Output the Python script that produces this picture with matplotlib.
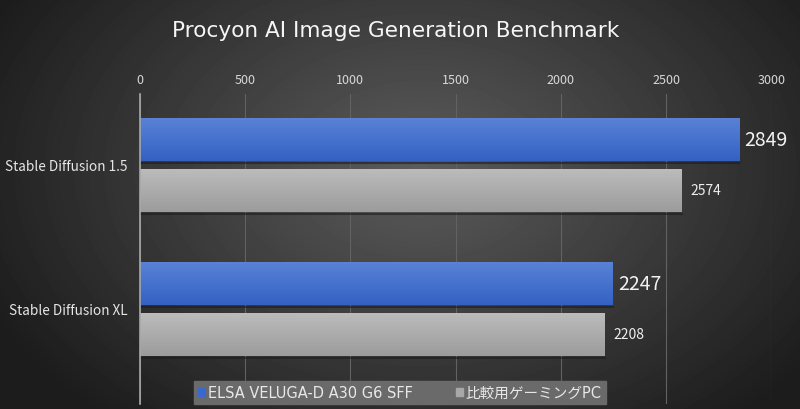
import numpy as np
import matplotlib
matplotlib.use('Agg')
import matplotlib.pyplot as plt
from matplotlib.patches import Patch

plt.rcParams['font.family'] = ['Noto Sans CJK JP', 'DejaVu Sans']
wide = ['DejaVu Sans', 'Noto Sans CJK JP']

categories = ['Stable Diffusion 1.5', 'Stable Diffusion XL']
series_names = ['ELSA VELUGA-D A30 G6 SFF', '比較用ゲーミングPC']
elsa_scores = [2849, 2247]
pc_scores = [2574, 2208]
x_ticks = [0, 500, 1000, 1500, 2000, 2500, 3000]

fig = plt.figure(figsize=(8, 4.1), dpi=100)

# radial gradient background
bg = fig.add_axes([0, 0, 1, 1])
bg.set_axis_off()
yy, xx = np.mgrid[0:410, 0:800]
r = np.sqrt(((xx - 420) / 480.0) ** 2 + ((yy - 170) / 330.0) ** 2)
shade = np.clip(0.36 - 0.25 * r, 0.11, 0.36)
bg.imshow(shade, cmap='gray', vmin=0, vmax=1, aspect='auto',
          extent=[0, 1, 0, 1], origin='upper')
bg.set_xlim(0, 1)
bg.set_ylim(0, 1)

ax = fig.add_axes([0.175, 0.012, 0.789, 0.756])
ax.patch.set_alpha(0)

pos = np.arange(len(categories))
h = 0.30
off = 0.177


def gradient_bars(y, vals, top, bottom):
    bars = ax.barh(y, vals, height=h, color=bottom, zorder=3)
    grad = np.linspace(0, 1, 50).reshape(-1, 1)
    cmap = matplotlib.colors.LinearSegmentedColormap.from_list('g', [top, bottom])
    for b in bars:
        x0, y0 = b.get_x(), b.get_y()
        im = ax.imshow(grad, cmap=cmap, aspect='auto', zorder=4,
                       extent=[x0, x0 + b.get_width(), y0 + b.get_height(), y0])
        im.set_clip_path(b)
        # dark edge under the bar
        ax.plot([x0, x0 + b.get_width()], [y0 + b.get_height() + 0.012] * 2,
                color='#1c1c1c', lw=1.5, alpha=0.6, zorder=2)
    return bars


b1 = gradient_bars(pos - off, elsa_scores, '#5a82d6', '#3462c4')
b2 = gradient_bars(pos + off, pc_scores, '#bcbcbc', '#9c9c9c')

for b, v in zip(b1, elsa_scores):
    ax.text(v + 25, b.get_y() + b.get_height() / 2, str(v), color='#f2f2f2',
            fontsize=14, va='center', ha='left', zorder=5)
for b, v in zip(b2, pc_scores):
    ax.text(v + 40, b.get_y() + b.get_height() / 2, str(v), color='#eeeeee',
            fontsize=10, va='center', ha='left', zorder=5)

ax.set_xlim(0, 3000)
ax.set_ylim(1.66, -0.49)
ax.set_xticks(x_ticks)
ax.xaxis.tick_top()
ax.tick_params(axis='x', length=0, pad=6, labelsize=9, labelcolor='#d8d8d8')
ax.set_yticks(pos)
ax.set_yticklabels(categories)
ax.tick_params(axis='y', length=0, pad=9, labelsize=9.8, labelcolor='#e6e6e6')
ax.grid(axis='x', color='#626262', lw=0.8, zorder=0)
for s in ['top', 'right', 'bottom']:
    ax.spines[s].set_visible(False)
ax.spines['left'].set_color('#a8a8a8')
ax.spines['left'].set_linewidth(1.2)
ax.spines['left'].set_zorder(6)

fig.text(0.494, 0.925, 'Procyon AI Image Generation Benchmark', ha='center',
         va='center', color='#f6f6f6', fontsize=15.6, family=wide,
         weight='medium')

handles = [Patch(color='#3a68cc', label=series_names[0]),
           Patch(color='#a8a8a8', label=series_names[1])]
leg = fig.legend(handles=handles, loc='center', bbox_to_anchor=(0.5, 0.04),
                 ncol=2, frameon=True, prop={'family': wide, 'size': 10.5},
                 handlelength=0.45, handleheight=0.45, handletextpad=0.2,
                 columnspacing=3.0, borderpad=0.3, borderaxespad=0,
                 fancybox=False)
leg.get_frame().set_facecolor('#6a6a6a')
leg.get_frame().set_edgecolor('#6a6a6a')
leg.get_frame().set_alpha(1)
for t in leg.get_texts():
    t.set_color('#e8e8e8')

fig.savefig('out.png', dpi=100)
